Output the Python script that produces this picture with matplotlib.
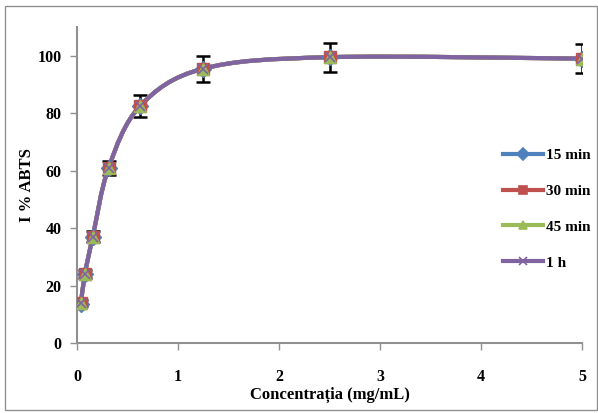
import numpy as np
import matplotlib
matplotlib.use("Agg")
from matplotlib import pyplot as plt
from matplotlib.path import Path
from matplotlib.patches import PathPatch, Rectangle
from matplotlib.lines import Line2D

# date
concentratii = [0.039, 0.078, 0.156, 0.3125, 0.625, 1.25, 2.5, 5.0]
i_15min = [13.5, 24, 37, 61, 82.5, 95.5, 99.5, 99]
i_30min = [14, 24, 37, 61, 82.5, 95.5, 99.5, 99]
i_45min = [14, 24, 37, 61, 82.5, 95.5, 99.5, 99]
i_1h = [14, 24, 37, 61, 82.5, 95.5, 99.5, 99]
erori = [1, 1.5, 2, 2.5, 4, 4.5, 5, 5]

serii = ['15 min', '30 min', '45 min', '1 h']
culori = {'15 min': '#4F81BD', '30 min': '#C0504D', '45 min': '#9BBB59', '1 h': '#8064A2'}
markere = {'15 min': 'D', '30 min': 's', '45 min': '^', '1 h': 'x'}

plt.rcParams['font.family'] = ['Liberation Serif', 'DejaVu Serif']
plt.rcParams['font.weight'] = 'bold'


def smooth_path(x, y):
    """curba netezita ca in Excel (Bezier cu tensiune 1/6)"""
    pts = np.column_stack([x, y]).astype(float)
    n = len(pts)
    verts = [pts[0]]
    codes = [Path.MOVETO]
    for i in range(n - 1):
        p_prev = pts[i - 1] if i > 0 else pts[i]
        p_next2 = pts[i + 2] if i + 2 < n else pts[i + 1]
        c1 = pts[i] + (pts[i + 1] - p_prev) / 6
        c2 = pts[i + 1] - (p_next2 - pts[i]) / 6
        verts += [c1, c2, pts[i + 1]]
        codes += [Path.CURVE4] * 3
    return Path(verts, codes)


fig = plt.figure(figsize=(5.98, 4.13), dpi=100)
ax = fig.add_axes([0.1288, 0.1695, 0.8445, 0.7651])

date = {'15 min': i_15min, '30 min': i_30min, '45 min': i_45min, '1 h': i_1h}

ax.errorbar(concentratii, i_1h, yerr=erori, fmt='none', ecolor='black',
            elinewidth=1.8, capsize=5, capthick=1.8, zorder=2)

handles = []
for s in serii:
    patch = PathPatch(smooth_path(concentratii, date[s]), facecolor='none',
                      edgecolor=culori[s], linewidth=3, zorder=3)
    ax.add_patch(patch)
    if markere[s] == 'x':
        ax.plot(concentratii, date[s], linestyle='none', marker='x', markersize=7,
                markeredgewidth=1.2, color=culori[s], zorder=4)
    else:
        ax.plot(concentratii, date[s], linestyle='none', marker=markere[s], markersize=8.5,
                color=culori[s], markeredgecolor=culori[s], zorder=4)
    handles.append(Line2D([], [], color=culori[s], linewidth=3, marker=markere[s],
                          markersize=6, markeredgewidth=1.2))

ax.set_xlim(0, 5)
ax.set_ylim(0, 110)
ax.set_xticks([0, 1, 2, 3, 4, 5])
ax.set_yticks([0, 20, 40, 60, 80, 100])

for side in ['top', 'right']:
    ax.spines[side].set_visible(False)
for side in ['left', 'bottom']:
    ax.spines[side].set_color('#909090')
    ax.spines[side].set_linewidth(1.5)

ax.tick_params(axis='x', direction='out', length=5, width=1, color='#909090',
               pad=14, labelsize=11.5)
ax.tick_params(axis='y', direction='out', length=5, width=1, color='#909090',
               pad=6, labelsize=11.5)

ax.set_xlabel('Concentrația (mg/mL)', fontsize=12, fontweight='bold', labelpad=1)
ax.set_ylabel('I % ABTS', fontsize=12, fontweight='bold', labelpad=2)

leg = ax.legend(handles, serii, loc='upper left', bbox_to_anchor=(0.828, 0.64),
                frameon=False, fontsize=11, handlelength=2.6, handletextpad=0.2,
                labelspacing=1.45, borderpad=0)

# chenarul exterior
fig.patches.append(Rectangle((0.008, 0.007), 0.99, 0.978, transform=fig.transFigure,
                             fill=False, edgecolor='#909090', linewidth=1))

fig.savefig('out.png', dpi=100)
